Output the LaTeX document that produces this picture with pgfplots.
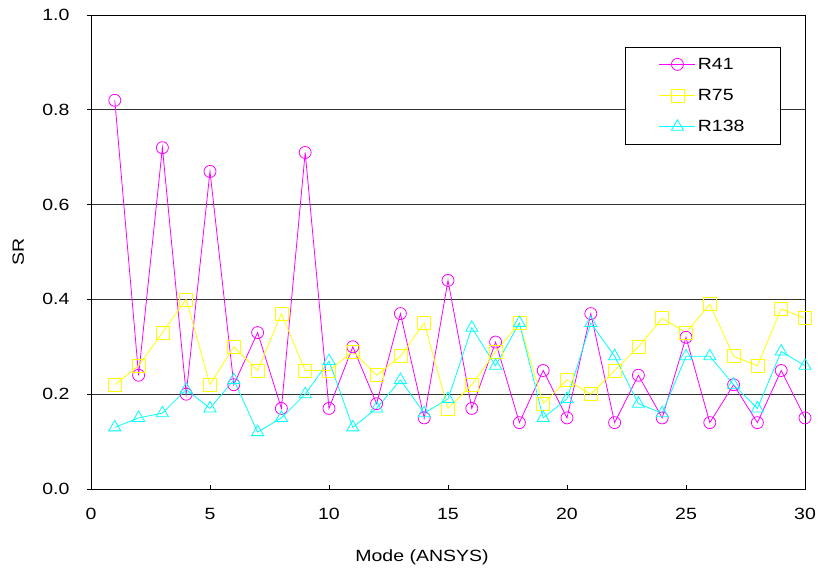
\documentclass[border=0pt]{standalone}
\usepackage{pgfplots}
\pgfplotsset{compat=1.18}
\usepackage{fontspec}
\setmainfont[FakeStretch=1.2]{Liberation Sans}
\definecolor{cmag}{RGB}{255,0,255}
\definecolor{cyel}{RGB}{255,255,0}
\definecolor{ccya}{RGB}{0,255,255}
\newcommand{\bigf}{\fontsize{16.3}{19}\selectfont}
\begin{document}
\begin{tikzpicture}[x=1bp,y=1bp]
\useasboundingbox (-91bp,-81bp) rectangle (726bp,489bp);
\begin{axis}[
  at={(0,0)}, anchor=south west,
  scale only axis, width=714bp, height=474bp,
  xmin=0, xmax=30, ymin=0, ymax=1,
  xtick={0,5,...,30}, ytick={0,0.2,...,1.0},
  tick label style={font=\bigf},
  label style={font=\bigf},
  /pgf/number format/assume math mode=true,
  yticklabel style={/pgf/number format/.cd, fixed, fixed zerofill, precision=1},
  xtick pos=bottom, ytick pos=left,
  xtick align=inside, ytick align=outside,
  major tick length=4bp,
  tick style={black, line width=0.6pt},
  yticklabel shift=14bp,
  xticklabel shift=16bp,
  ymajorgrids, grid style={black!80, line width=0.7pt},
  axis line style={line width=0.9pt},
  xlabel={Mode (ANSYS)}, ylabel={SR},
  xlabel style={at={(axis description cs:0.4636,-0.1435)}, anchor=center},
  ylabel style={at={(axis description cs:-0.102,0.5)}, anchor=center},
  legend style={at={(axis description cs:0.966,0.933)}, anchor=north east,
    draw=black, line width=0.6pt, font=\bigf,
    inner xsep=34bp, inner ysep=9bp, row sep=14.5bp,
    legend cell align=left},
  legend image code/.code={
    \draw[mark repeat=2,mark phase=2] plot coordinates {(0bp,0bp) (18bp,0bp) (36bp,0bp)};},
  every axis plot/.append style={line width=0.8pt, mark size=6bp, mark options={solid, line width=0.8pt}},
]
\addplot[color=cmag, mark=o] coordinates {
(1,0.82)(2,0.24)(3,0.72)(4,0.20)(5,0.67)(6,0.22)(7,0.33)(8,0.17)(9,0.71)(10,0.17)
(11,0.30)(12,0.18)(13,0.37)(14,0.15)(15,0.44)(16,0.17)(17,0.31)(18,0.14)(19,0.25)(20,0.15)
(21,0.37)(22,0.14)(23,0.24)(24,0.15)(25,0.32)(26,0.14)(27,0.22)(28,0.14)(29,0.25)(30,0.15)};
\addlegendentry{R41}
\addplot[color=cyel, mark=square, mark size=6.5bp] coordinates {
(1,0.22)(2,0.26)(3,0.33)(4,0.40)(5,0.22)(6,0.30)(7,0.25)(8,0.37)(9,0.25)(10,0.25)
(11,0.29)(12,0.24)(13,0.28)(14,0.35)(15,0.17)(16,0.22)(17,0.29)(18,0.35)(19,0.18)(20,0.23)
(21,0.20)(22,0.25)(23,0.30)(24,0.36)(25,0.33)(26,0.39)(27,0.28)(28,0.26)(29,0.38)(30,0.36)};
\addlegendentry{R75}
\addplot[color=ccya, mark=triangle, mark size=7bp] coordinates {
(1,0.13)(2,0.15)(3,0.16)(4,0.21)(5,0.17)(6,0.23)(7,0.12)(8,0.15)(9,0.20)(10,0.27)
(11,0.13)(12,0.17)(13,0.23)(14,0.16)(15,0.19)(16,0.34)(17,0.26)(18,0.35)(19,0.15)(20,0.19)
(21,0.35)(22,0.28)(23,0.18)(24,0.16)(25,0.28)(26,0.28)(27,0.22)(28,0.17)(29,0.29)(30,0.26)};
\addlegendentry{R138}
\end{axis}
\end{tikzpicture}
\end{document}
